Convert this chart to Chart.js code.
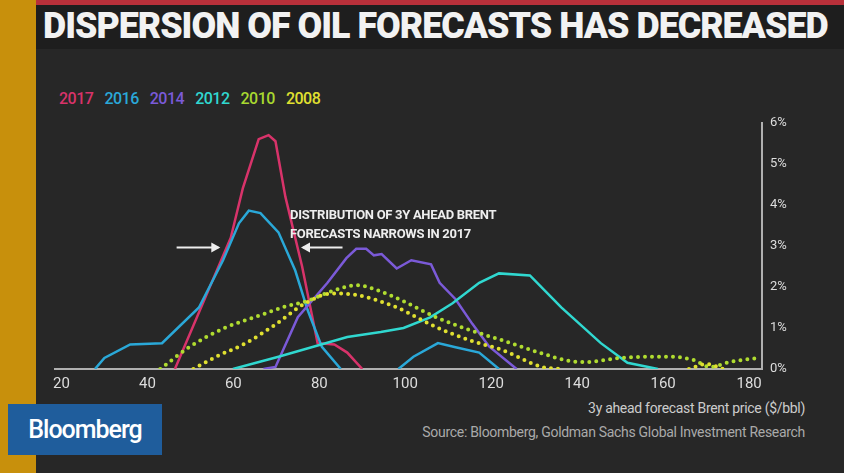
<!DOCTYPE html>
<html><head><meta charset="utf-8">
<script src="https://cdn.jsdelivr.net/npm/chart.js@4"></script>
<style>
body{margin:0;width:844px;height:473px;overflow:hidden;background:#272727;font-family:"Liberation Sans",Arial,sans-serif;position:relative}
#strip{position:absolute;left:0;top:0;width:36px;height:473px;background:#c8900c}
#redbar{position:absolute;left:36px;top:0;width:808px;height:5px;background:#b8303a}
#titlebar{position:absolute;left:36px;top:5px;width:808px;height:44px;background:#1e1e1e}
#title{position:absolute;left:43px;top:5px;font:900 36px "Roboto","Liberation Sans",sans-serif;color:#f2f2f2;letter-spacing:-1px;transform:scaleX(0.995);transform-origin:left;white-space:nowrap}
#legend{position:absolute;left:59px;top:89px;font:500 16px "Roboto",sans-serif;letter-spacing:-0.5px}
#legend span{margin-right:11px}
#note{position:absolute;left:290px;top:205px;font:bold 13px "Roboto",sans-serif;color:#eee;line-height:19px;letter-spacing:-0.3px}
#xtitle{position:absolute;right:39px;top:400px;font:14px "Roboto",sans-serif;color:#ccc;letter-spacing:-0.3px}
#source{position:absolute;right:39px;top:424px;font:14px "Roboto",sans-serif;color:#aaa;letter-spacing:-0.3px}
#logo{position:absolute;left:8px;top:404px;width:154px;height:51px;background:#1f5d9c;color:#fff;font:500 25px "Roboto",sans-serif;letter-spacing:-1px;line-height:51px;text-align:center}
#wrap{position:absolute;left:47px;top:107px;width:775px;height:292px}
</style></head><body>
<div id="strip"></div><div id="redbar"></div><div id="titlebar"></div>
<div id="title">DISPERSION OF OIL FORECASTS HAS DECREASED</div>
<div id="legend"><span style="color:#d8336a">2017</span><span style="color:#2aa8d8">2016</span><span style="color:#7b5ad8">2014</span><span style="color:#30d8d0">2012</span><span style="color:#a8d830">2010</span><span style="color:#e0e030">2008</span></div>
<div id="wrap"><canvas id="c"></canvas></div>
<div id="note">DISTRIBUTION OF 3Y AHEAD BRENT<br>FORECASTS NARROWS IN 2017</div>
<div id="xtitle">3y ahead forecast Brent price ($/bbl)</div>
<div id="source">Source: Bloomberg, Goldman Sachs Global Investment Research</div>
<div id="logo">Bloomberg</div>
<script>
// price ($/bbl) and share of forecasts (%) for each year
const x2017 = [46.4, 59.4, 62.2, 65.9, 68.2, 69.8, 72.1, 76, 79.6, 83.5, 86.5, 90];
const y2017 = [0, 3.2, 4.4, 5.6, 5.7, 5.55, 4.2, 2.5, 0.63, 0.6, 0.4, 0];
const x2016 = [27.8, 30, 36, 43.4, 52, 57.6, 61.3, 63.6, 66.3, 70.5, 74.4, 77.3, 80.6, 85, 91, 98.4, 101.9, 107.6, 111.7, 117.2, 121.8];
const y2016 = [0, 0.27, 0.6, 0.63, 1.5, 2.65, 3.55, 3.86, 3.8, 3.33, 2.4, 1.43, 0.54, 0, null, 0, 0.3, 0.63, 0.53, 0.4, 0];
const x2014 = [67, 69.8, 75, 81.9, 86.3, 88.6, 90.9, 92.7, 94.5, 98, 101.4, 106, 108, 111.7, 115.6, 119.5, 125.9];
const y2014 = [0, 0.05, 1.26, 2.1, 2.7, 2.93, 2.93, 2.77, 2.8, 2.45, 2.65, 2.55, 2.1, 1.7, 1.1, 0.55, 0];
const x2012 = [59.9, 70.5, 86.5, 94.3, 99.6, 105.8, 111, 117.2, 121.8, 129, 136.3, 145.5, 151.7, 158.8];
const y2012 = [0, 0.3, 0.78, 0.9, 1.0, 1.26, 1.6, 2.1, 2.33, 2.28, 1.5, 0.63, 0.15, 0];
const x2010 = [43, 50, 58, 66, 72, 77, 83, 88.8, 94, 100, 107.2, 115, 122.6, 131.8, 138, 142, 150, 161.7, 167, 171, 175.5, 182];
const y2010 = [0, 0.55, 1.0, 1.3, 1.52, 1.65, 1.9, 2.04, 1.9, 1.63, 1.26, 0.95, 0.7, 0.38, 0.2, 0.17, 0.27, 0.3, 0.22, 0.05, 0.17, 0.27];
const x2008 = [50.7, 56, 62.9, 70, 76.7, 82.9, 88.8, 98, 107.2, 115, 122.6, 131.8, 136, 150, 166, 170, 174];
const y2008 = [0, 0.3, 0.63, 1.1, 1.6, 1.84, 1.8, 1.5, 1.02, 0.7, 0.46, 0.05, 0, null, 0, 0.12, 0];
const xTicks = [20, 40, 60, 80, 100, 120, 140, 160, 180];
const yTicks = [0, 1, 2, 3, 4, 5, 6];

function pts(xs, ys) { return xs.map((x, i) => ({ x: x, y: ys[i] })); }
function line(xs, ys, color) {
    return { data: pts(xs, ys), borderColor: color, borderWidth: 2.5, pointRadius: 0, tension: 0, spanGaps: false };
}
function dots(xs, ys, color) {
    return { data: pts(xs, ys), borderColor: color, borderWidth: 4, borderDash: [0, 7], borderCapStyle: 'round', pointRadius: 0, cubicInterpolationMode: 'monotone', spanGaps: false };
}

// arrows either side of the 2017 peak
const arrows = {
    id: 'arrows',
    afterDatasetsDraw(chart) {
        const c = chart.ctx, xs = chart.scales.x, ys = chart.scales.y;
        const yy = ys.getPixelForValue(2.96);
        c.save();
        c.strokeStyle = '#eee'; c.fillStyle = '#eee'; c.lineWidth = 2;
        [[46.8, 56.5], [85.4, 76.2]].forEach(([a, b]) => {
            const p0 = xs.getPixelForValue(a), p1 = xs.getPixelForValue(b);
            const d = Math.sign(p1 - p0);
            c.beginPath(); c.moveTo(p0, yy); c.lineTo(p1, yy); c.stroke();
            c.beginPath(); c.moveTo(p1 + d * 2, yy); c.lineTo(p1 - d * 7, yy - 5); c.lineTo(p1 - d * 7, yy + 5); c.closePath(); c.fill();
        });
        c.restore();
    }
};

new Chart(document.getElementById('c'), {
    type: 'line',
    data: {
        datasets: [
            dots(x2008, y2008, '#e0e030'),
            dots(x2010, y2010, '#b0dc30'),
            line(x2012, y2012, '#30d8d0'),
            line(x2014, y2014, '#7b5ad8'),
            line(x2016, y2016, '#2aa8d8'),
            line(x2017, y2017, '#d8336a')
        ]
    },
    options: {
        responsive: true,
        maintainAspectRatio: false,
        animation: false,
        layout: { padding: 0 },
        plugins: { legend: { display: false }, tooltip: { enabled: false } },
        scales: {
            x: {
                type: 'linear', min: 18.5, max: 183,
                afterBuildTicks: s => { s.ticks = xTicks.map(v => ({ value: v })); },
                afterFit: s => { s.height = 30; },
                grid: { display: false, drawTicks: false },
                border: { color: '#b0b0b0', width: 2 },
                ticks: { color: '#ddd', padding: 6, font: { size: 15, family: 'Roboto' }, maxRotation: 0 }
            },
            y: {
                position: 'right', min: 0, max: 6,
                afterBuildTicks: s => { s.ticks = yTicks.map(v => ({ value: v })); },
                afterFit: s => { s.width = 60; },
                grid: { display: false, drawTicks: false },
                border: { color: '#b0b0b0', width: 2 },
                ticks: { color: '#ddd', padding: 8, font: { size: 13, family: 'Roboto' }, callback: v => v + '%' }
            }
        }
    },
    plugins: [arrows]
});
</script>
</body></html>
